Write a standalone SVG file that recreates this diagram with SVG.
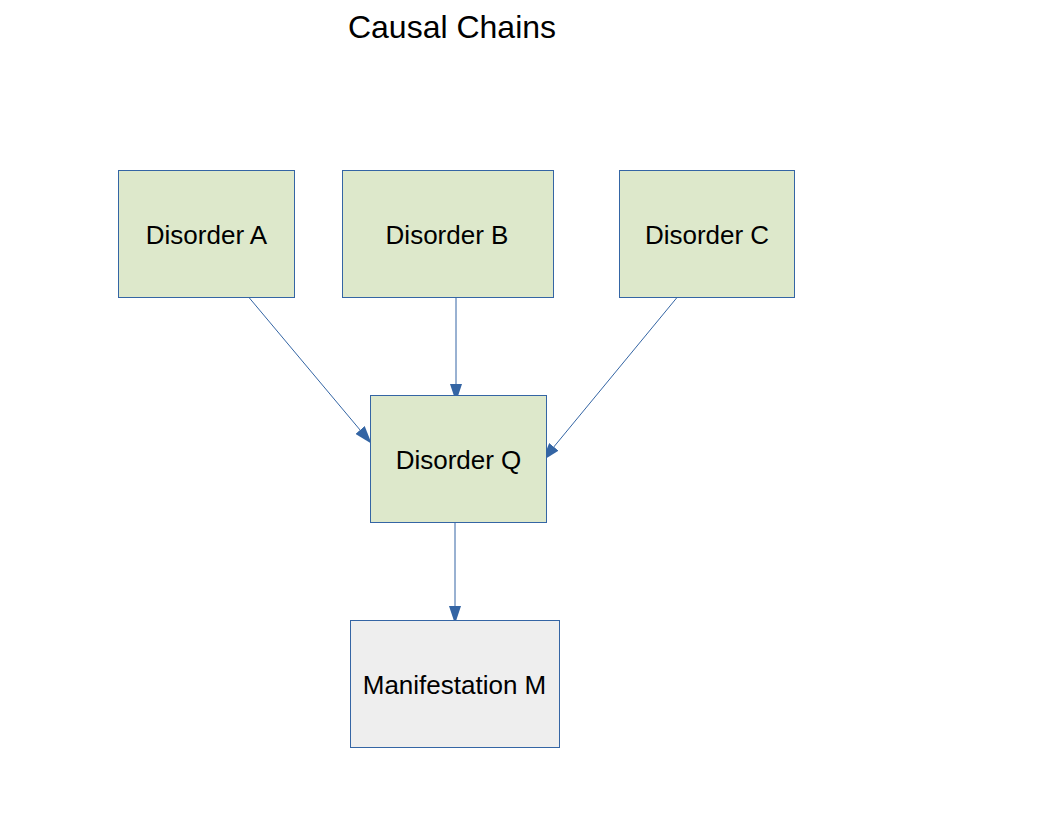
<svg xmlns="http://www.w3.org/2000/svg" width="1056" height="816" viewBox="0 0 1056 816">
<style>
.box{stroke:#3465a4;stroke-width:1}
.g{fill:#dde8cb}
.m{fill:#eeeeee}
.t{font-family:"Liberation Sans",Arial,sans-serif;font-size:26px;fill:#000;text-anchor:middle}
.c{stroke:#3465a4;stroke-width:1;fill:none}
</style>
<defs>
<marker id="ah" viewBox="0 0 18 12" refX="17" refY="6" markerWidth="18" markerHeight="12" markerUnits="userSpaceOnUse" orient="auto">
<path d="M0,0 L18,6 L0,12 Z" fill="#3465a4"/>
</marker>
</defs>
<rect width="1056" height="816" fill="#fff"/>
<text x="452" y="38" class="t" style="font-size:32px">Causal Chains</text>
<g id="connectors">
<line class="c" x1="249" y1="297.5" x2="371" y2="443" marker-end="url(#ah)"/>
<line class="c" x1="456" y1="297.5" x2="456" y2="401" marker-end="url(#ah)"/>
<line class="c" x1="677" y1="297.5" x2="543" y2="460" marker-end="url(#ah)"/>
<line class="c" x1="455" y1="518" x2="455" y2="623" marker-end="url(#ah)"/>
</g>
<g id="nodeA"><rect class="box g" x="118.5" y="170.5" width="176" height="127"/><text class="t" x="206.5" y="243.5">Disorder A</text></g>
<g id="nodeB"><rect class="box g" x="342.5" y="170.5" width="211" height="127"/><text class="t" x="447" y="243.5">Disorder B</text></g>
<g id="nodeC"><rect class="box g" x="619.5" y="170.5" width="175" height="127"/><text class="t" x="707" y="243.5">Disorder C</text></g>
<g id="nodeQ"><rect class="box g" x="370.5" y="395.5" width="176" height="127"/><text class="t" x="458.5" y="468.5">Disorder Q</text></g>
<g id="nodeM"><rect class="box m" x="350.5" y="620.5" width="209" height="127"/><text class="t" x="454.5" y="693.5">Manifestation M</text></g>
</svg>
